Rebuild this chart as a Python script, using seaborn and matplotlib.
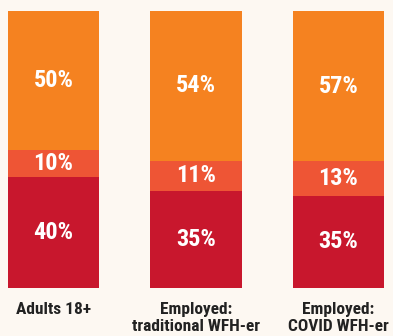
import matplotlib
matplotlib.use("Agg")
import matplotlib.pyplot as plt
from matplotlib import font_manager
import seaborn as sns
import numpy as np

categories = ["Adults 18+", "Employed:\ntraditional WFH-er", "Employed:\nCOVID WFH-er"]
bottom_vals = [40, 35, 35]   # dark red
middle_vals = [10, 11, 13]   # red-orange
top_vals = [50, 54, 57]      # orange

colors = {"bottom": "#C8172D", "middle": "#EE5535", "top": "#F58220"}
bg = "#FDF8F2"

sns.set_theme(style="white")


def _w(f):
    w = f.weight
    if isinstance(w, str):
        return font_manager.weight_dict.get(w, 400)
    return w


# prefer a condensed sans that has a bold face
bold_cond = sorted({f.name for f in font_manager.fontManager.ttflist
                    if ("Condensed" in f.name or "Narrow" in f.name)
                    and _w(f) >= 600})
pref = [n for n in bold_cond if n.startswith("Roboto")] + \
       [n for n in bold_cond if n.startswith("Liberation")] + bold_cond
if pref:
    fam = [pref[0], "Roboto", "DejaVu Sans"]
    pct_size, tick_size = 17.5, 12.5
else:
    fam = ["Roboto", "DejaVu Sans"]
    pct_size, tick_size = 15, 11.5
plt.rcParams["font.family"] = fam

b = np.array(bottom_vals, float)
m = np.array(middle_vals, float)
t = np.array(top_vals, float)
tot = b + m + t
bn, mn, tn = b / tot, m / tot, t / tot

fig = plt.figure(figsize=(3.93, 3.36), dpi=100, facecolor=bg)
ax = fig.add_axes([8 / 393, 48 / 336, 376 / 393, 277 / 336])
ax.set_facecolor(bg)

sns.barplot(x=categories, y=bn + mn + tn, color=colors["top"], width=0.64,
            saturation=1, ax=ax, linewidth=0)
sns.barplot(x=categories, y=bn + mn, color=colors["middle"], width=0.64,
            saturation=1, ax=ax, linewidth=0)
sns.barplot(x=categories, y=bn, color=colors["bottom"], width=0.64,
            saturation=1, ax=ax, linewidth=0)

for i in range(len(categories)):
    for lo, h, v in [(0, bn[i], bottom_vals[i]),
                     (bn[i], mn[i], middle_vals[i]),
                     (bn[i] + mn[i], tn[i], top_vals[i])]:
        ax.text(i, lo + h / 2, f"{v}%", ha="center", va="center",
                color="white", fontsize=pct_size, fontweight="bold")

ax.set_xlim(-0.32, 2.32)
ax.set_ylim(0, 1)
ax.set_yticks([])
ax.set_ylabel("")
ax.set_xlabel("")
ax.tick_params(axis="x", length=0, pad=10, labelsize=tick_size, labelcolor="#222222")
for lab in ax.get_xticklabels():
    lab.set_fontweight("bold")
    lab.set_linespacing(1.15)
for s in ax.spines.values():
    s.set_visible(False)

fig.savefig("out.png", dpi=100, facecolor=bg)
